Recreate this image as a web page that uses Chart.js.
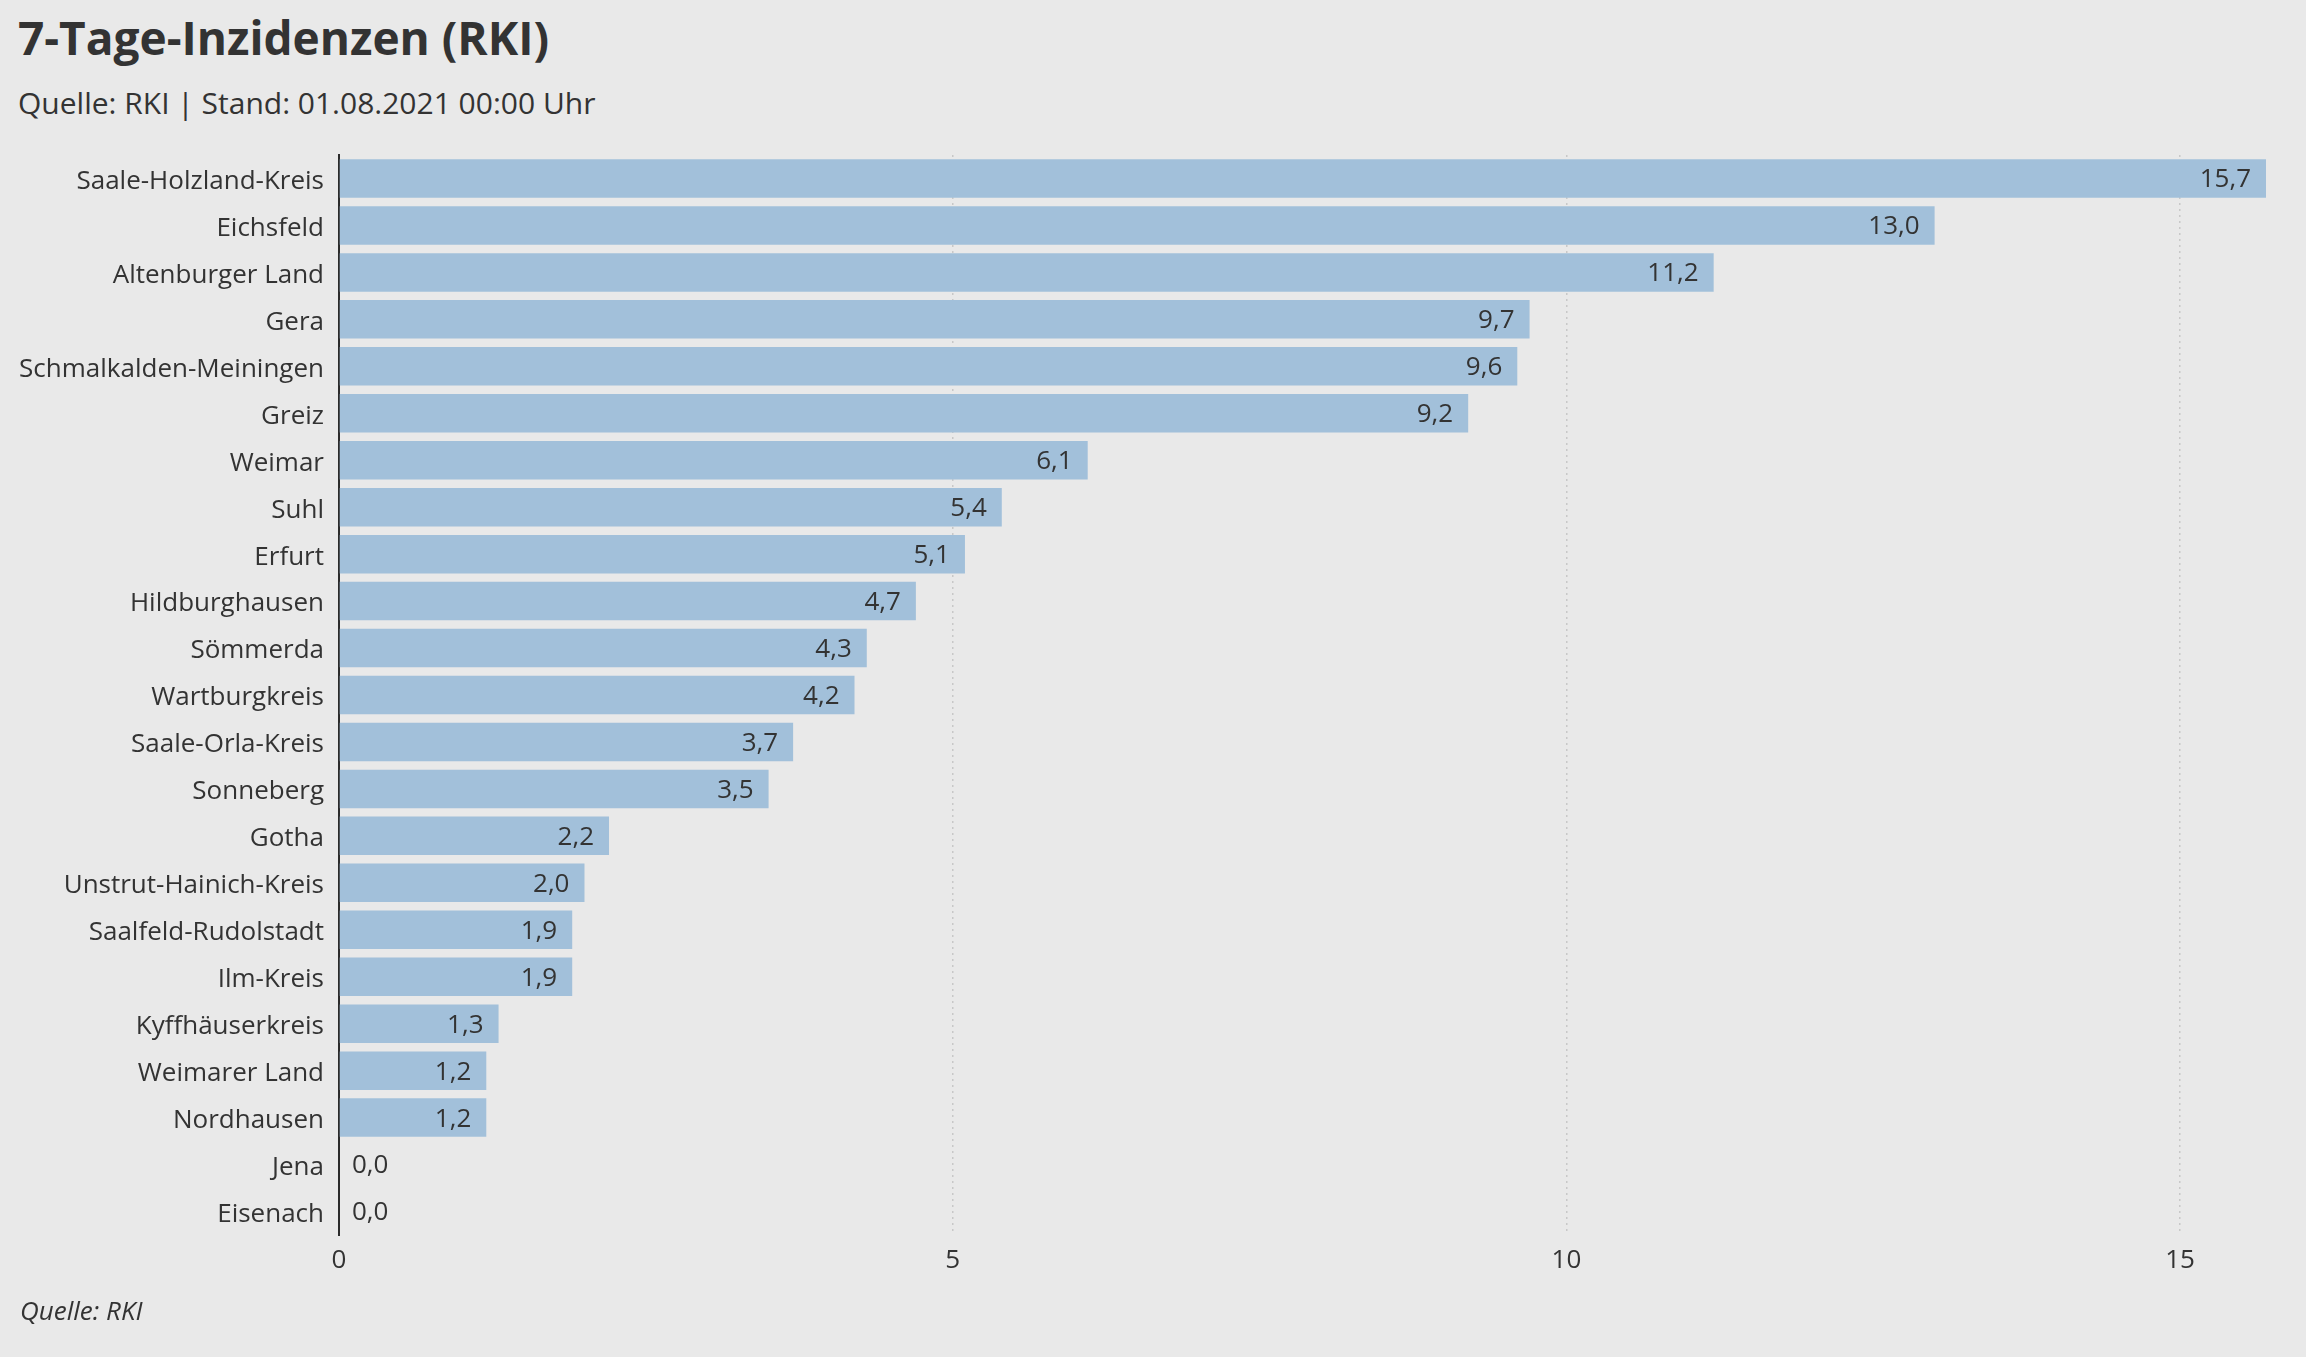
<!DOCTYPE html>
<html lang="de">
<head>
<meta charset="utf-8">
<title>7-Tage-Inzidenzen (RKI)</title>
<script src="https://cdn.jsdelivr.net/npm/chart.js@4.4.1/dist/chart.umd.min.js"></script>
<style>
    html, body { margin: 0; padding: 0; background: #e9e9e9; }
    body { width: 2306px; height: 1357px; position: relative; overflow: hidden; font-family: "Open Sans", sans-serif; color: #333; }
    #titel { position: absolute; left: 18px; top: 14px; font-size: 46px; font-weight: 700; line-height: 1; }
    #untertitel { position: absolute; left: 18px; top: 88px; font-size: 30px; line-height: 1; }
    #fussnote { position: absolute; left: 20px; top: 1297px; font-size: 26px; font-style: italic; line-height: 1; }
    #chartCanvas { position: absolute; left: 0; top: 0; }
</style>
</head>
<body>
<div id="titel">7-Tage-Inzidenzen (RKI)</div>
<div id="untertitel">Quelle: RKI | Stand: 01.08.2021 00:00 Uhr</div>
<canvas id="chartCanvas" width="2306" height="1357"></canvas>
<div id="fussnote">Quelle: RKI</div>
<script>
// Landkreise und kreisfreie Städte
const kreise = [
    "Saale-Holzland-Kreis", "Eichsfeld", "Altenburger Land", "Gera",
    "Schmalkalden-Meiningen", "Greiz", "Weimar", "Suhl", "Erfurt",
    "Hildburghausen", "Sömmerda", "Wartburgkreis", "Saale-Orla-Kreis",
    "Sonneberg", "Gotha", "Unstrut-Hainich-Kreis", "Saalfeld-Rudolstadt",
    "Ilm-Kreis", "Kyffhäuserkreis", "Weimarer Land", "Nordhausen",
    "Jena", "Eisenach"
];

// 7-Tage-Inzidenz je Kreis
const inzidenzen = [
    15.7, 13.0, 11.2, 9.7,
    9.6, 9.2, 6.1, 5.4, 5.1,
    4.7, 4.3, 4.2, 3.7,
    3.5, 2.2, 2.0, 1.9,
    1.9, 1.3, 1.2, 1.2,
    0.0, 0.0
];

// Achsenbeschriftung
const xTicks = [0, 5, 10, 15];

const textFarbe = "#333333";
const balkenFarbe = "#a2c0da";
const schrift = { family: "'Open Sans', sans-serif", size: 26 };

function formatZahl(v) {
    return v.toFixed(1).replace(".", ",");
}

// Werte an die Balken schreiben
const wertLabels = {
    id: "wertLabels",
    afterDatasetsDraw(chart) {
        const ctx = chart.ctx;
        const meta = chart.getDatasetMeta(0);
        ctx.save();
        ctx.font = "26px 'Open Sans', sans-serif";
        ctx.fillStyle = textFarbe;
        ctx.textBaseline = "middle";
        meta.data.forEach((bar, i) => {
            const text = formatZahl(inzidenzen[i]);
            const w = ctx.measureText(text).width;
            const y = bar.y + 1.5;
            if (bar.x - bar.base > w + 30) {
                ctx.textAlign = "right";
                ctx.fillText(text, bar.x - 15, y);
            } else {
                ctx.textAlign = "left";
                ctx.fillText(text, bar.base + 13, y);
            }
        });
        ctx.restore();
    }
};

document.addEventListener("DOMContentLoaded", function () {
    const chartCanvas = document.getElementById("chartCanvas").getContext("2d");

    new Chart(chartCanvas, {
        type: "bar",
        data: {
            labels: kreise,
            datasets: [{
                data: inzidenzen,
                backgroundColor: balkenFarbe,
                borderWidth: 0,
                categoryPercentage: 1,
                barPercentage: 0.82
            }]
        },
        options: {
            responsive: false,
            devicePixelRatio: 1,
            animation: false,
            indexAxis: "y",
            layout: { padding: { top: 155, right: 40, bottom: 62, left: 0 } },
            plugins: {
                legend: { display: false },
                tooltip: { enabled: false }
            },
            scales: {
                x: {
                    min: 0,
                    max: Math.max(...inzidenzen),
                    afterFit(scale) { scale.height = 60; },
                    afterBuildTicks(scale) { scale.ticks = xTicks.map(v => ({ value: v })); },
                    ticks: {
                        font: schrift,
                        color: textFarbe,
                        padding: 10,
                        maxRotation: 0
                    },
                    grid: {
                        color: c => (c.tick && c.tick.value === 0) ? "rgba(0,0,0,0)" : "#c8c8c8",
                        lineWidth: 1.5,
                        drawTicks: false
                    },
                    border: { display: false, dash: [2, 4] }
                },
                y: {
                    afterFit(scale) { scale.width = 339; },
                    ticks: {
                        font: schrift,
                        color: textFarbe,
                        padding: 15,
                        labelOffset: 3
                    },
                    grid: { display: false, drawTicks: false },
                    border: { display: true, color: "#2b2b2b", width: 2 }
                }
            }
        },
        plugins: [wertLabels]
    });
});
</script>
</body>
</html>
